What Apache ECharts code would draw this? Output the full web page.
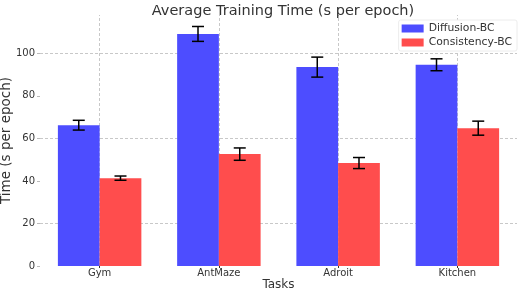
<!DOCTYPE html>
<html><head><meta charset="utf-8">
<script src="https://cdn.jsdelivr.net/npm/echarts@6/dist/echarts.min.js"></script>
<style>html,body{margin:0;padding:0;background:#fff}#c{width:520px;height:290px}</style>
</head><body><div id="c"></div>
<script>
const categories = ['Gym', 'AntMaze', 'Adroit', 'Kitchen'];
const diffusionMean = [66.2, 109.1, 93.5, 94.6];
const diffusionErr = [2.3, 3.5, 4.7, 2.8];
const consistencyMean = [41.3, 52.6, 48.4, 64.8];
const consistencyErr = [1.0, 2.9, 2.6, 3.3];
const gridValues = [20, 60, 100];
const yTicks = [0, 20, 40, 60, 80, 100];

const FONT = 'DejaVu Sans';
const BAR_FRAC = 0.35;

function errData(means, errs) {
  return means.map((m, i) => [i, m, errs[i]]);
}
function errSeries(name, means, errs, side) {
  return {
    type: 'custom', name: name + '-err', z: 10, silent: true,
    data: errData(means, errs),
    encode: { x: 0, y: 1 },
    renderItem: function (params, api) {
      const i = api.value(0), m = api.value(1), e = api.value(2);
      const band = api.size([1, 0])[0];
      const bw = band * BAR_FRAC;
      const cx = api.coord([i, m])[0] + side * bw / 2;
      const yTop = api.coord([i, m + e])[1];
      const yBot = api.coord([i, m - e])[1];
      const cap = 6;
      const st = { stroke: '#000', lineWidth: 1.5 };
      return { type: 'group', children: [
        { type: 'line', shape: { x1: cx, y1: yTop, x2: cx, y2: yBot }, style: st },
        { type: 'line', shape: { x1: cx - cap, y1: yTop, x2: cx + cap, y2: yTop }, style: st },
        { type: 'line', shape: { x1: cx - cap, y1: yBot, x2: cx + cap, y2: yBot }, style: st }
      ]};
    }
  };
}

const chart = echarts.init(document.getElementById('c'));
const gridLineStyle = { color: '#c8c8c8', type: [3, 2], width: 1 };
chart.setOption({
  animation: false,
  textStyle: { fontFamily: FONT },
  title: { text: 'Average Training Time (s per epoch)', left: 278, textAlign: 'center', top: -1,
    textStyle: { fontFamily: FONT, fontSize: 14.5, fontWeight: 'normal', color: '#333' } },
  legend: {
    data: ['Diffusion-BC', 'Consistency-BC'], orient: 'vertical', right: 3, top: 20,
    itemWidth: 22, itemHeight: 8, itemGap: 3, padding: [3, 5, 3, 3],
    backgroundColor: '#fff', borderColor: '#ececec', borderWidth: 1, borderRadius: 2,
    textStyle: { fontFamily: FONT, fontSize: 10.8, color: '#333' }, icon: 'rect'
  },
  grid: { left: 40, right: 3, top: 15, bottom: 24, containLabel: false, outerBoundsMode: 'none' },
  xAxis: {
    type: 'category', data: categories, name: 'Tasks', nameLocation: 'middle', nameGap: 13,
    nameMoveOverlap: false,
    nameTextStyle: { fontFamily: FONT, fontSize: 12, color: '#333' },
    axisLine: { show: false },
    axisTick: { show: true, alignWithLabel: true, length: 2, lineStyle: { color: '#333' } },
    axisLabel: { fontFamily: FONT, fontSize: 10, color: '#333', margin: 2 },
    splitLine: { show: false }
  },
  yAxis: {
    type: 'value', min: 0, max: 118, interval: 20,
    name: 'Time (s per epoch)', nameLocation: 'middle', nameGap: 27,
    nameMoveOverlap: false,
    nameTextStyle: { fontFamily: FONT, fontSize: 13.5, color: '#333' },
    axisLine: { show: false },
    axisTick: { show: true, length: 3, lineStyle: { color: '#bbb' }, customValues: yTicks },
    axisLabel: { fontFamily: FONT, fontSize: 10, color: '#333', margin: 5, customValues: yTicks },
    splitLine: { show: false }
  },
  series: [
    {
      type: 'line', name: 'grid', data: [], z: 1, silent: true,
      markLine: {
        silent: true, symbol: 'none', z: 1, label: { show: false },
        lineStyle: gridLineStyle,
        data: gridValues.map(v => ({ yAxis: v })).concat(categories.map(c => ({ xAxis: c })))
      }
    },
    { type: 'bar', name: 'Diffusion-BC', data: diffusionMean, barWidth: '35%', barGap: '0%', z: 3,
      itemStyle: { color: '#4d4dff' } },
    { type: 'bar', name: 'Consistency-BC', data: consistencyMean, barWidth: '35%', barGap: '0%', z: 3,
      itemStyle: { color: '#ff4d4d' } },
    errSeries('Diffusion-BC', diffusionMean, diffusionErr, -1),
    errSeries('Consistency-BC', consistencyMean, consistencyErr, 1)
  ]
});
</script></body></html>
